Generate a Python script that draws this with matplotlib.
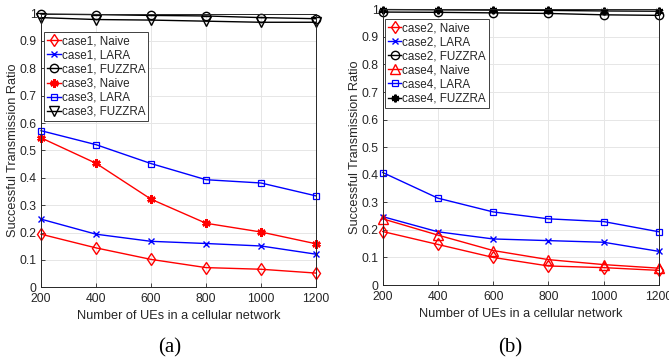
import matplotlib
matplotlib.use("Agg")
import matplotlib.pyplot as plt

plt.rcParams['font.family'] = ['Liberation Sans', 'DejaVu Sans']

x = [200, 400, 600, 800, 1000, 1200]

# panel (a)
a_case1_naive = [0.194, 0.144, 0.102, 0.072, 0.066, 0.052]
a_case1_lara = [0.249, 0.194, 0.168, 0.160, 0.151, 0.121]
a_case1_fuzzra = [0.998, 0.996, 0.993, 0.991, 0.985, 0.981]
a_case3_naive = [0.546, 0.453, 0.322, 0.234, 0.202, 0.159]
a_case3_lara = [0.572, 0.521, 0.452, 0.393, 0.381, 0.334]
a_case3_fuzzra = [0.985, 0.978, 0.976, 0.972, 0.968, 0.968]

# panel (b)
b_case2_naive = [0.194, 0.147, 0.100, 0.069, 0.063, 0.053]
b_case2_lara = [0.248, 0.193, 0.167, 0.161, 0.155, 0.122]
b_case2_fuzzra = [0.990, 0.989, 0.987, 0.985, 0.980, 0.978]
b_case4_naive = [0.240, 0.181, 0.125, 0.092, 0.074, 0.061]
b_case4_lara = [0.408, 0.315, 0.265, 0.240, 0.230, 0.193]
b_case4_fuzzra = [0.999, 0.998, 0.997, 0.996, 0.994, 0.993]

yticks = [0, 0.1, 0.2, 0.3, 0.4, 0.5, 0.6, 0.7, 0.8, 0.9, 1]
yticklabels = ['0', '0.1', '0.2', '0.3', '0.4', '0.5', '0.6', '0.7', '0.8', '0.9', '1']

RED = '#ff0000'
BLUE = '#0000ff'
BLACK = '#000000'
AST = (6, 2, 0)

fig = plt.figure(figsize=(6.69, 3.62), dpi=100)
ax1 = fig.add_axes([0.0613, 0.2063, 0.4110, 0.7564])
ax2 = fig.add_axes([0.5720, 0.2127, 0.4130, 0.7616])

def style(ax):
    ax.set_xlim(200, 1200)
    ax.set_ylim(0, 1)
    ax.set_xticks(x)
    ax.set_xticklabels([str(v) for v in x])
    ax.set_yticks(yticks)
    ax.set_yticklabels(yticklabels)
    ax.grid(True, color='#e6e6e6', linewidth=0.7)
    ax.set_axisbelow(True)
    for s in ax.spines.values():
        s.set_color('#262626')
        s.set_linewidth(0.7)
    ax.tick_params(labelsize=8.8, colors='#262626', direction='in', length=3, width=0.6, pad=3)
    ax.tick_params(axis='x', pad=4)
    ax.set_xlabel('Number of UEs in a cellular network', fontsize=9.2, color='#262626', labelpad=4)
    ax.set_ylabel('Successful Transmission Ratio', fontsize=9.2, color='#262626', labelpad=0.5)

lw = 1.0
ax1.plot(x, a_case1_naive, color=RED, lw=lw, marker='d', ms=6.5, mfc='none', mew=1.0, label='case1, Naive')
ax1.plot(x, a_case1_lara, color=BLUE, lw=lw, marker='x', ms=4, mew=1.0, label='case1, LARA')
ax1.plot(x, a_case1_fuzzra, color=BLACK, lw=lw, marker='o', ms=6, mfc='none', mew=1.0, label='case1, FUZZRA')
ax1.plot(x, a_case3_naive, color=RED, lw=lw, marker=AST, ms=6, mew=1.8, label='case3, Naive')
ax1.plot(x, a_case3_lara, color=BLUE, lw=lw, marker='s', ms=4.8, mfc='none', mew=0.9, label='case3, LARA')
ax1.plot(x, a_case3_fuzzra, color=BLACK, lw=lw, marker='v', ms=6.5, mfc='none', mew=1.0, label='case3, FUZZRA')

ax2.plot(x, b_case2_naive, color=RED, lw=lw, marker='d', ms=6.5, mfc='none', mew=1.0, label='case2, Naive')
ax2.plot(x, b_case2_lara, color=BLUE, lw=lw, marker='x', ms=4, mew=1.0, label='case2, LARA')
ax2.plot(x, b_case2_fuzzra, color=BLACK, lw=lw, marker='o', ms=6, mfc='none', mew=1.0, label='case2, FUZZRA')
ax2.plot(x, b_case4_naive, color=RED, lw=lw, marker='^', ms=6.5, mfc='none', mew=1.0, label='case4, Naive')
ax2.plot(x, b_case4_lara, color=BLUE, lw=lw, marker='s', ms=4.8, mfc='none', mew=0.9, label='case4, LARA')
ax2.plot(x, b_case4_fuzzra, color=BLACK, lw=lw, marker=AST, ms=5.5, mew=1.6, label='case4, FUZZRA')

for ax, anchor in ((ax1, (0.012, 0.931)), (ax2, (0.008, 0.964))):
    style(ax)
    for ln in ax.get_lines():
        ln.set_clip_on(False)
    leg = ax.legend(loc='upper left', bbox_to_anchor=anchor, fontsize=8.4,
                    handlelength=1.15, handletextpad=0.1, borderpad=0.25,
                    labelspacing=0.18, fancybox=False, framealpha=1, borderaxespad=0)
    leg.get_frame().set_edgecolor('#404040')
    leg.get_frame().set_linewidth(0.7)
    for t in leg.get_texts():
        t.set_color('#262626')

fig.text(0.254, 0.040, '(a)', fontsize=15, family='Liberation Serif', ha='center', va='center')
fig.text(0.762, 0.039, '(b)', fontsize=15, family='Liberation Serif', ha='center', va='center')

fig.savefig('out.png', dpi=100)
